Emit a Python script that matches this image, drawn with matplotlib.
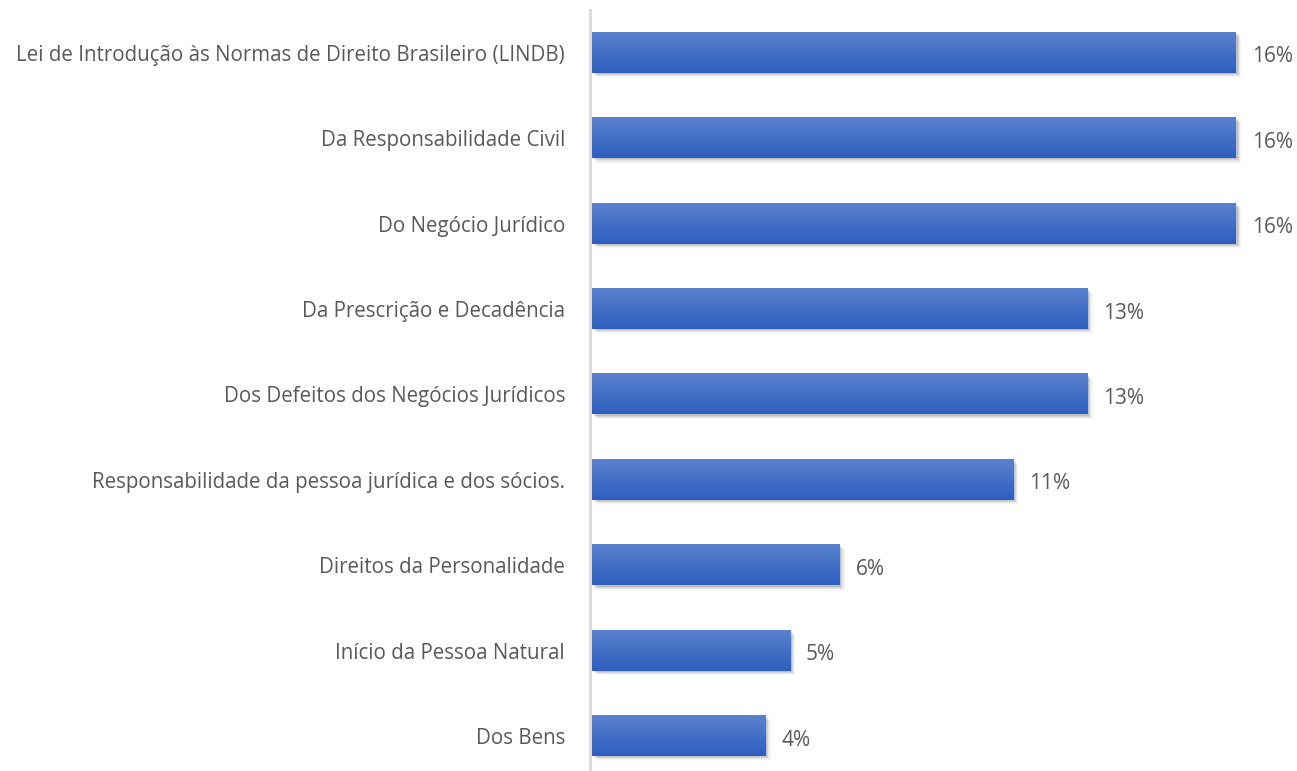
import matplotlib.pyplot as plt
import numpy as np
from matplotlib.colors import LinearSegmentedColormap
from matplotlib.patches import Rectangle

plt.rcParams['font.family'] = ['Open Sans', 'DejaVu Sans']

categories = [
    'Lei de Introdução às Normas de Direito Brasileiro (LINDB)',
    'Da Responsabilidade Civil',
    'Do Negócio Jurídico',
    'Da Prescrição e Decadência',
    'Dos Defeitos dos Negócios Jurídicos',
    'Responsabilidade da pessoa jurídica e dos sócios.',
    'Direitos da Personalidade',
    'Início da Pessoa Natural',
    'Dos Bens',
]
values = [16.25, 16.25, 16.25, 12.5, 12.5, 10.625, 6.25, 5.0, 4.375]
value_labels = ['16%', '16%', '16%', '13%', '13%', '11%', '6%', '5%', '4%']

fig = plt.figure(figsize=(12.97, 7.71), dpi=100)
ax = fig.add_axes([592 / 1297, 0, (1290 - 592) / 1297, (771 - 10) / 771])

cmap = LinearSegmentedColormap.from_list('bar', ['#5a81cd', '#2d5fbf'])
grad = np.linspace(0, 1, 64).reshape(-1, 1)
h = 0.47
text_color = '#595959'

for i, v in enumerate(values):
    # soft shadow below/right
    for k, a in enumerate([0.10, 0.08, 0.06, 0.04]):
        off = 0.015 + k * 0.012
        ax.add_patch(Rectangle((0.04 + k * 0.03, i - h / 2 + off), v, h,
                               facecolor='black', alpha=a, linewidth=0, zorder=1))
    ax.imshow(grad, extent=[0, v, i + h / 2, i - h / 2], cmap=cmap,
              aspect='auto', origin='upper', zorder=2, interpolation='bilinear')
    ax.text(v + 0.4, i + 0.02, value_labels[i], va='center_baseline', ha='left',
            fontsize=15, color=text_color)

ax.set_xlim(0, 698 / 39.63)
ax.set_ylim(8.41, -0.5)
ax.set_yticks(range(len(categories)))
ax.set_yticklabels(categories)
ax.tick_params(axis='y', length=0, pad=18, labelcolor=text_color, labelsize=14.8)
ax.set_xticks([])
for s in ['top', 'right', 'bottom']:
    ax.spines[s].set_visible(False)
ax.spines['left'].set_color('#d9d9d9')
ax.spines['left'].set_linewidth(2)
ax.spines['left'].set_position(('data', -0.05))

fig.savefig('out.png', dpi=100)
